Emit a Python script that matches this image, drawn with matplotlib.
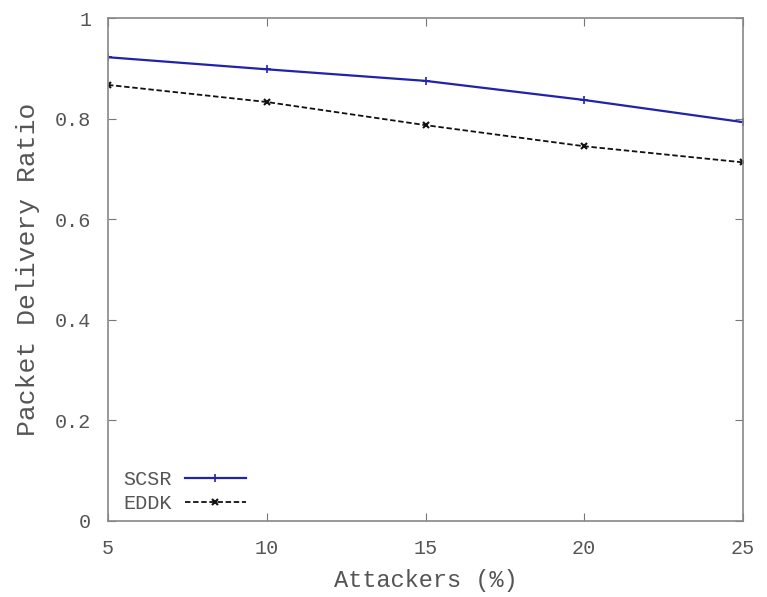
import matplotlib
matplotlib.use("Agg")
import matplotlib.pyplot as plt

attackers = [5, 10, 15, 20, 25]
scsr = [0.922, 0.898, 0.875, 0.837, 0.793]
eddk = [0.867, 0.833, 0.787, 0.745, 0.713]
x_ticks = [5, 10, 15, 20, 25]
y_ticks = [0, 0.2, 0.4, 0.6, 0.8, 1]
y_tick_labels = ["0", "0.2", "0.4", "0.6", "0.8", "1"]

plt.rcParams["font.family"] = ["Liberation Mono", "DejaVu Sans Mono"]
text_color = "#555555"

fig = plt.figure(figsize=(7.67, 5.97), dpi=100)
ax = fig.add_axes([108 / 767, 1 - 521 / 597, (743 - 108) / 767, (521 - 18) / 597])

ax.plot(attackers, scsr, color="#2222aa", lw=1.6, marker="+", ms=6, mew=1.2, label="SCSR")
ax.plot(attackers, eddk, color="#111111", lw=1.3, ls=(0, (3, 1.5)), marker="x", ms=5, mew=1.5, label="EDDK")

ax.set_xlim(5, 25)
ax.set_ylim(0, 1)
ax.set_xticks(x_ticks)
ax.set_yticks(y_ticks)
ax.set_yticklabels(y_tick_labels)
ax.tick_params(direction="in", length=6, top=True, right=True, colors="#777777",
               labelcolor=text_color, labelsize=14.5)
ax.tick_params(axis="x", pad=13)
ax.tick_params(axis="y", pad=12)
for s in ax.spines.values():
    s.set_color("#888888")
    s.set_linewidth(1.2)

ax.set_xlabel("Attackers (%)", fontsize=17, color=text_color, labelpad=8)
ax.set_ylabel("Packet Delivery Ratio", fontsize=19, color=text_color, labelpad=11)

leg = ax.legend(loc="lower left", bbox_to_anchor=(7 / 635, 0), frameon=False, markerfirst=False,
                fontsize=14.5, handlelength=3.05, handletextpad=0.65, labelspacing=0.25,
                borderaxespad=0, borderpad=0.4)
for t in leg.get_texts():
    t.set_color(text_color)

fig.savefig("out.png", dpi=100)
